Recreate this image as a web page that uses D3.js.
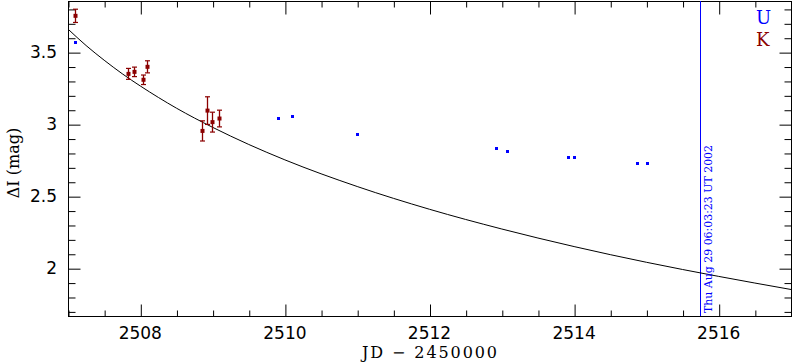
<!DOCTYPE html>
<html><head><meta charset="utf-8">
<script src="https://cdn.jsdelivr.net/npm/d3@7"></script>
<style>html,body{margin:0;padding:0;background:#fff;}svg{display:block;}</style>
</head><body>
<svg id="c" width="792" height="362"></svg>
<script>
// K band (dark red) with errors
const kJD  = [2507.092, 2507.826, 2507.917, 2508.033, 2508.092, 2508.858, 2508.927, 2508.996, 2509.084];
const kMag = [3.752, 3.349, 3.363, 3.308, 3.398, 2.953, 3.094, 3.014, 3.039];
const kErr = [0.046, 0.038, 0.033, 0.033, 0.042, 0.070, 0.096, 0.069, 0.058];
// U band (blue)
const uJD  = [2507.092, 2509.909, 2510.103, 2511.002, 2512.924, 2513.067, 2513.915, 2514.003, 2514.874, 2515.012];
const uMag = [3.567, 3.046, 3.056, 2.931, 2.833, 2.817, 2.771, 2.771, 2.729, 2.729];
// model curve
const curveJD  = [2507, 2507.25, 2507.5, 2507.75, 2508, 2508.5, 2509, 2509.5, 2510, 2511, 2512, 2513, 2514, 2515, 2516, 2517];
const curveMag = [3.660, 3.546, 3.444, 3.350, 3.265, 3.111, 2.978, 2.859, 2.752, 2.567, 2.409, 2.272, 2.150, 2.041, 1.943, 1.852];
// marker line
const markJD = 2515.745;
const markText = "Thu Aug 29 06:03:23 UT 2002";
const xMajor = [2508, 2510, 2512, 2514, 2516];
const yMajor = [2, 2.5, 3, 3.5];
const legendNames = ["U", "K"];
const legendColors = ["#0000ff", "#8b0000"];

const svg = d3.select("#c");
const L = 68, R = 791, T = 1, B = 316;
const x = d3.scaleLinear().domain([2507, 2517]).range([L, R]);
const y = d3.scaleLinear().domain([1.668, 3.855]).range([B, T]);
const g = svg.append("g").attr("transform", "translate(0.5,0.5)");

const xMinor = d3.range(2507, 2517.001, 0.5).filter(v => !xMajor.includes(v));
const yMinor = d3.range(1.7, 3.86, 0.1).map(v => +v.toFixed(1)).filter(v => !yMajor.includes(v));

function ax(gen, tr, vals, size) {
  const a = g.append("g").attr("transform", tr)
    .call(gen.tickValues(vals).tickSize(-size).tickFormat("").tickPadding(0));
  a.select(".domain").remove();
  a.selectAll("line").attr("stroke", "#000");
}
ax(d3.axisBottom(x), `translate(0,${B})`, xMajor, 12);
ax(d3.axisBottom(x), `translate(0,${B})`, xMinor, 6);
ax(d3.axisTop(x), `translate(0,${T})`, xMajor, 13);
ax(d3.axisTop(x), `translate(0,${T})`, xMinor, 6);
ax(d3.axisLeft(y), `translate(${L},0)`, yMajor, 12);
ax(d3.axisLeft(y), `translate(${L},0)`, yMinor, 7);
ax(d3.axisRight(y), `translate(${R},0)`, yMajor, 12);
ax(d3.axisRight(y), `translate(${R},0)`, yMinor, 7);

g.append("rect").attr("x", L).attr("y", T).attr("width", R - L).attr("height", B - T)
  .attr("fill", "none").attr("stroke", "#000");

const font = "DejaVu Sans";
svg.selectAll(".xl").data(xMajor).enter().append("text")
  .attr("x", d => x(d)).attr("y", 339).attr("text-anchor", "middle")
  .attr("font-family", font).attr("font-size", 17).text(d => d);
svg.selectAll(".yl").data(yMajor).enter().append("text")
  .attr("x", 57).attr("y", d => y(d)).attr("dy", "0.35em").attr("text-anchor", "end")
  .attr("font-family", font).attr("font-size", 17).text(d => d);

svg.append("text").attr("x", 429.5).attr("y", 357.5).attr("text-anchor", "middle")
  .attr("font-family", "DejaVu Serif").attr("font-size", 16)
  .attr("textLength", 135).attr("lengthAdjust", "spacing")
  .text("JD \u2212 2450000");
svg.append("text").attr("transform", "translate(19,163) rotate(-90)").attr("text-anchor", "middle")
  .attr("font-family", "DejaVu Serif").attr("font-size", 16)
  .text("\u0394I (mag)");

// clip
svg.append("clipPath").attr("id", "clp").append("rect")
  .attr("x", L).attr("y", T).attr("width", R - L).attr("height", B - T);
const p = svg.append("g").attr("clip-path", "url(#clp)");

// marker vertical line
p.append("line").attr("x1", Math.round(x(markJD)) + 0.5).attr("x2", Math.round(x(markJD)) + 0.5)
  .attr("y1", T).attr("y2", B).attr("stroke", "#0000ff").attr("stroke-width", 1);
svg.append("text").attr("transform", `translate(${x(markJD) + 11.5},313) rotate(-90)`)
  .attr("font-family", "DejaVu Serif").attr("font-size", 11).attr("fill", "#0000ff")
  .attr("textLength", 168).attr("lengthAdjust", "spacingAndGlyphs").text(markText);

// curve
const line = d3.line().x((d, i) => x(curveJD[i])).y(d => y(d)).curve(d3.curveMonotoneX);
p.append("path").attr("d", line(curveMag)).attr("fill", "none").attr("stroke", "#000").attr("stroke-width", 1);

// K points
const kc = legendColors[1];
kJD.forEach((jd, i) => {
  const cx = Math.round(x(jd)) + 0.5;
  const y1 = y(kMag[i] + kErr[i]), y2 = y(kMag[i] - kErr[i]);
  p.append("line").attr("x1", cx).attr("x2", cx).attr("y1", y1).attr("y2", y2).attr("stroke", kc).attr("stroke-width", 1.3);
  [y1, y2].forEach(yy => p.append("line").attr("x1", cx - 2.5).attr("x2", cx + 2.5)
    .attr("y1", yy).attr("y2", yy).attr("stroke", kc).attr("stroke-width", 1.2));
  p.append("rect").attr("x", cx - 2).attr("y", y(kMag[i]) - 2).attr("width", 4).attr("height", 4).attr("fill", kc);
});
// U points
uJD.forEach((jd, i) => {
  const cx = Math.round(x(jd));
  p.append("rect").attr("x", cx - 1).attr("y", Math.round(y(uMag[i])) - 1).attr("width", 3).attr("height", 3).attr("fill", legendColors[0]);
});

// legend
legendNames.forEach((n, i) => {
  svg.append("text").attr("x", 756).attr("y", 24 + i * 22)
    .attr("font-family", "DejaVu Serif").attr("font-size", 18).attr("fill", legendColors[i]).text(n);
});
</script>
</body></html>
